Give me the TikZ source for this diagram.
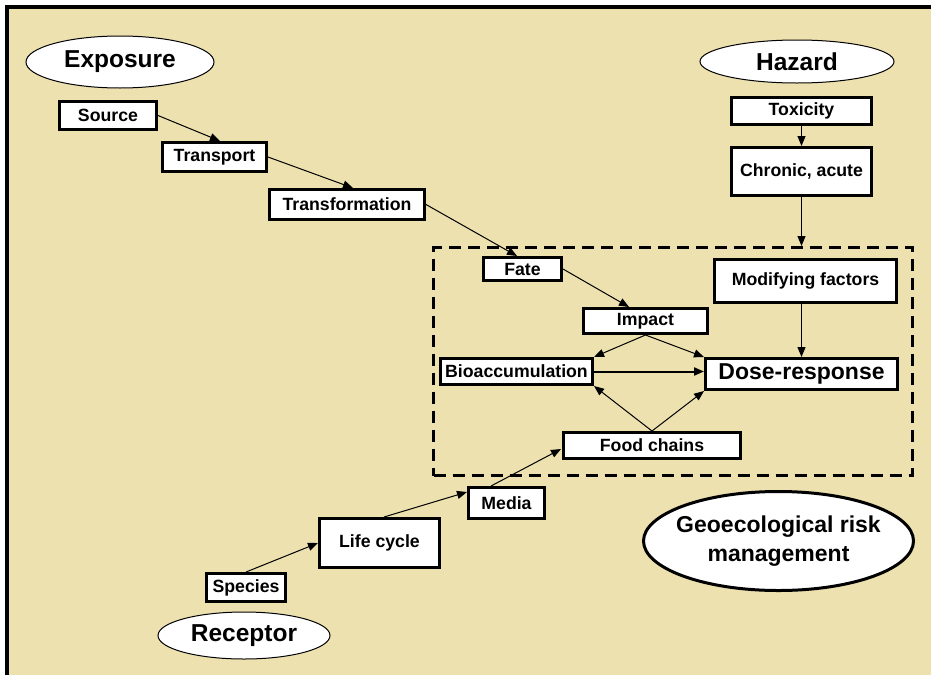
\documentclass[tikz,border=0pt]{standalone}
\usepackage{fontspec}
\setmainfont{Liberation Sans}
\usetikzlibrary{shapes.geometric,arrows.meta,calc}

\definecolor{paper}{RGB}{237,225,175}

% font sizes for the three kinds of labels
\newcommand\labfont{\fontsize{17.7}{20}\selectfont\bfseries}
\newcommand\headfont{\fontsize{24.5}{29}\selectfont\bfseries}
\newcommand\keyfont{\fontsize{23}{29}\selectfont\bfseries}

\tikzset{
  stepbox/.style={draw=black, fill=white, line width=2.8pt, rectangle,
    inner sep=0pt, font=\labfont},
  headoval/.style={draw=black, fill=white, line width=1pt, ellipse,
    inner sep=0pt, font=\headfont},
  link/.style={draw=black, line width=1pt,
    -{Triangle[length=10pt,width=8pt]}},
  zonebox/.style={draw=black, line width=3pt, dash pattern=on 12pt off 7pt,
    rectangle, inner sep=0pt},
}

\begin{document}
\begin{tikzpicture}[x=1pt,y=-1pt]
\useasboundingbox (0,0) rectangle (931,675);

% frame
\fill[white] (0,0) rectangle (931,675);
\fill[paper] (9.3,8.7) rectangle (931,675);
\draw[line width=4pt] (7.3,675) -- (7.3,6.7) -- (931,6.7);

% dashed zone around the effect chain
\node[zonebox, minimum width=479, minimum height=228] (zone) at (673,361.5) {};

% headings
\node[headoval, minimum width=188, minimum height=52] (exposure) at (120,62) {Exposure};
\node[headoval, minimum width=194, minimum height=43] (hazard) at (797,61.5) {Hazard};
\node[headoval, minimum width=172, minimum height=47] (receptor) at (244,635.5) {Receptor};
\node[draw=black, fill=white, line width=3pt, ellipse, inner sep=0pt,
      minimum width=270, minimum height=99,
      label={[font=\keyfont, align=center, inner sep=0pt]center:Geoecological risk\\management}]
      (geo) at (778.5,541) {};

% exposure chain
\node[stepbox, minimum width=97.2, minimum height=28.2] (source) at (108,115.5) {Source};
\node[stepbox, minimum width=104.2, minimum height=29.2] (transport) at (214.5,157) {Transport};
\node[stepbox, minimum width=155.2, minimum height=30.2] (transformation) at (347,204.5) {Transformation};
\node[stepbox, minimum width=78.2, minimum height=23.2] (fate) at (522.5,269) {Fate};
\node[stepbox, minimum width=124.2, minimum height=25.2] (impact) at (645.5,321) {Impact};
\node[stepbox, minimum width=152.2, minimum height=26.2] (bio) at (516.5,371.5) {Bioaccumulation};
\node[stepbox, minimum width=192.2, minimum height=31.2, font=\keyfont] (dose) at (801.5,374) {Dose-response};
\node[stepbox, minimum width=177.2, minimum height=26.2] (food) at (652,445.5) {Food chains};
\node[stepbox, minimum width=182.2, minimum height=43.2] (modifying) at (805.5,281) {Modifying factors};

% hazard chain
\node[stepbox, minimum width=140.2, minimum height=27.2] (toxicity) at (801.5,111) {Toxicity};
\node[stepbox, minimum width=140.2, minimum height=48.2] (chronic) at (801.5,171.5) {Chronic, acute};

% receptor chain
\node[stepbox, minimum width=79.2, minimum height=28.2] (species) at (246,587.5) {Species};
\node[stepbox, minimum width=120.2, minimum height=49.2] (life) at (379.5,543) {Life cycle};
\node[stepbox, minimum width=76.2, minimum height=31.2] (media) at (506.5,503) {Media};

% connectors
\draw[link] (source.east) -- ($(transport.north)+(5.5,0)$);
\draw[link] (transport.east) -- ($(transformation.north)+(6,0)$);
\draw[link] (transformation.east) -- ($(fate.north)+(-5.5,0)$);
\draw[link] (fate.east) -- ($(impact.north)+(-16.5,0)$);
\draw[link] (impact.south) -- (bio.north east);
\draw[link] (impact.south) -- (dose.north west);
\draw[link, line width=2pt] (bio.east) -- (bio.east -| dose.west);
\draw[link] (food.north) -- (bio.south east);
\draw[link] (food.north) -- (dose.south west);
\draw[link] (dose.north |- modifying.south) -- (dose.north);
\draw[link] (toxicity.south) -- (chronic.north);
\draw[link] (chronic.south) -- (chronic.south |- zone.north);
\draw[link] (species.north) -- (life.west);
\draw[link] ($(life.north)+(4.5,0)$) -- ($(media.west)+(0,-11)$);
\draw[link] ($(media.north)+(-15.5,0)$) -- ($(food.west)+(-1,3.5)$);
\end{tikzpicture}
\end{document}
